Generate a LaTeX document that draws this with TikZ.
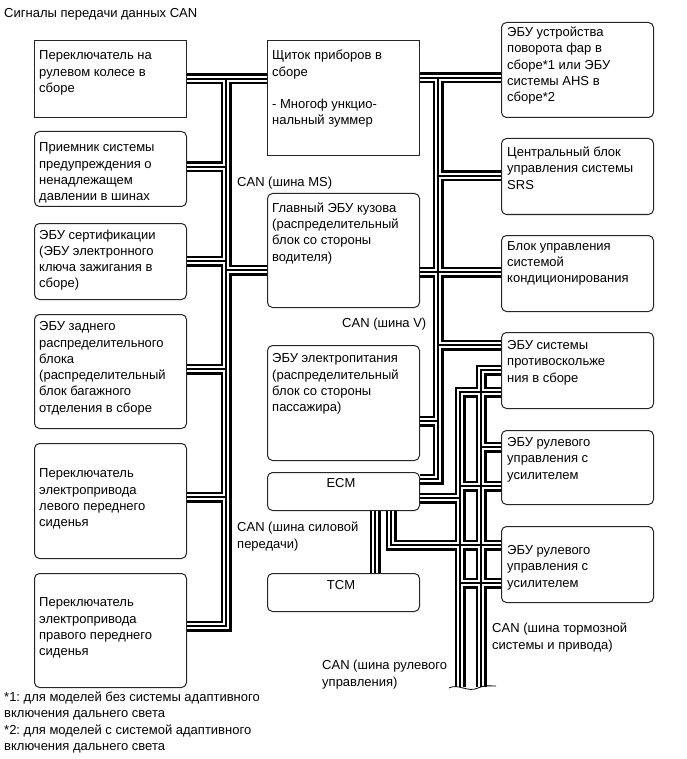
\documentclass[tikz,border=0pt]{standalone}
\usepackage{fontspec}
\setmainfont{Liberation Sans}
\frenchspacing
\begin{document}
\begin{tikzpicture}[x=1pt,y=-1pt,
  box/.style={draw=black!85, line width=1pt, fill=white, inner sep=0pt, minimum width=152pt, anchor=north west},
  rbox/.style={box, rounded corners=5pt},
  txt/.style={font=\fontsize{13}{16.3}\selectfont, inner sep=0pt, align=left, anchor=north west},
  lbl/.style={font=\fontsize{13}{16.3}\selectfont, inner sep=0pt, anchor=base west},
  foot/.style={font=\fontsize{13}{16.5}\selectfont, inner sep=0pt, align=left, anchor=north west},
  busA/.style={line width=11pt, black},
  busB/.style={line width=5.6pt, white},
  busC/.style={line width=1.4pt, black}]
\useasboundingbox (0,0) rectangle (686,759);

% ---- boxes ----
\node[box,  minimum height=77pt]  (sw)   at (34,40)  {};
\node[rbox, minimum height=75pt]  (tp)   at (34,131) {};
\node[rbox, minimum height=76pt]  (cert) at (34,223) {};
\node[rbox, minimum height=114pt] (rear) at (34,314) {};
\node[rbox, minimum height=115pt] (ls)   at (34,443) {};
\node[rbox, minimum height=114pt] (rs)   at (34,573) {};
\node[box,  minimum height=115pt] (ip)   at (267,40) {};
\node[rbox, minimum height=114pt] (mb)   at (267,193) {};
\node[rbox, minimum height=115pt] (ps)   at (267,345) {};
\node[rbox, minimum height=38pt]  (ecm)  at (267,472) {};
\node[rbox, minimum height=38pt]  (tcm)  at (267,573) {};
\node[rbox, minimum height=95pt]  (hl)   at (501,22)  {};
\node[rbox, minimum height=76pt]  (srs)  at (501,138) {};
\node[rbox, minimum height=76pt]  (ac)   at (501,235) {};
\node[rbox, minimum height=76pt]  (absu) at (501,332) {};
\node[rbox, minimum height=74pt]  (eps1) at (501,430) {};
\node[rbox, minimum height=76pt]  (eps2) at (501,526) {};

% ---- bus junction points ----
\coordinate (msTop) at (226,79);
\coordinate (msBot) at (226,626);
\coordinate (vTop)  at (438,78);
\coordinate (vBot)  at (438,479);
\coordinate (brTop) at (481,370);
\coordinate (brEnd) at (481,687);
\coordinate (stTop) at (460,392);
\coordinate (stEnd) at (460,687);
\coordinate (ptCor) at (391,545);

\foreach \st in {busA,busB,busC}{
  \draw[\st]
    % CAN MS bus
    (sw.east |- msTop) -- (ip.west |- msTop)
    (msTop) -- (msBot) -- (rs.east |- msBot)
    (tp.east |- 0,167) -- (msTop |- 0,167)
    (cert.east |- 0,261) -- (msTop |- 0,261)
    (msTop |- 0,270) -- (mb.west |- 0,270)
    (rear.east |- 0,369) -- (msTop |- 0,369)
    (ls.east |- 0,497) -- (msTop |- 0,497)
    % CAN V bus
    (ip.east |- vTop) -- (hl.west |- vTop)
    (vTop) -- (vBot) -- (ecm.east |- vBot)
    (vTop |- 0,176) -- (srs.west |- 0,176)
    (mb.east |- 0,272) -- (ac.west |- 0,272)
    (vTop |- 0,345) -- (absu.west |- 0,345)
    (ps.east |- 0,421) -- (vTop |- 0,421)
    % brake / drive bus
    (absu.west |- brTop) -- (brTop) -- (brEnd)
    (brTop |- 0,447) -- (eps1.west |- 0,447)
    % steering bus
    (absu.west |- stTop) -- (stTop) -- (stEnd)
    (stTop |- 0,486) -- (eps1.west |- 0,486)
    (ecm.east |- 0,498) -- (stTop |- 0,498)
    (stTop |- 0,583) -- (eps2.west |- 0,583)
    % powertrain bus
    (ecm.south -| 375,0) -- (tcm.north -| 375,0)
    (ecm.south -| ptCor) -- (ptCor) -- (eps2.west |- ptCor);
}
% break mark
\draw[line width=0.8pt] (449,688) .. controls (458,683) and (468,693) .. (478,688) .. controls (485,685) and (490,686) .. (496,686);

% ---- texts ----
\node[lbl] (title) at (4,18) {Сигналы передачи данных CAN};
\node[txt] (tsw) at (39,48.1) {\strut Переключатель на\\рулевом колесе в\\сборе};
\node[txt] (ttp) at (39,140.1) {\strut Приемник системы\\предупреждения о\\ненадлежащем\\давлении в шинах};
\node[txt] (tcert) at (39,227.4) {\strut ЭБУ сертификации\\(ЭБУ электронного\\ключа зажигания в\\сборе)};
\node[txt] (trear) at (39,319.1) {\strut ЭБУ заднего\\распределительного\\блока\\(распределительный\\блок багажного\\отделения в сборе};
\node[txt] (tls) at (39,466.1) {\strut Переключатель\\электропривода\\левого переднего\\сиденья};
\node[txt] (trs) at (39,595.1) {\strut Переключатель\\электропривода\\правого переднего\\сиденья};
\node[txt] (tip) at (272,48.1) {\strut Щиток приборов в\\сборе\\[15.8pt]- Многоф ункцио-\\нальный зуммер};
\node[txt] (tmb) at (272,200.6) {\strut Главный ЭБУ кузова\\(распределительный\\блок со стороны\\водителя)};
\node[txt] (tps) at (272,351.1) {\strut ЭБУ электропитания\\(распределительный\\блок со стороны\\пассажира)};
\node[lbl, anchor=base] (tecm) at (341,487.5) {ECM};
\node[lbl, anchor=base] (ttcm) at (341,589.5) {TCM};
\node[txt] (thl) at (507,24.9) {\strut ЭБУ устройства\\поворота фар в\\сборе*1 или ЭБУ\\системы AHS в\\сборе*2};
\node[txt] (tsrs) at (507,144.9) {\strut Центральный блок\\управления системы\\SRS};
\node[txt] (tac) at (507,238.6) {\strut Блок управления\\системой\\кондиционирования};
\node[txt] (tabs) at (507,337.9) {\strut ЭБУ системы\\противоскольже\\ния в сборе};
\node[txt] (teps1) at (507,434.9) {\strut ЭБУ рулевого\\управления с\\усилителем};
\node[txt] (teps2) at (507,542.9) {\strut ЭБУ рулевого\\управления с\\усилителем};

\node[lbl] (lms) at (237,187) {CAN (шина MS)};
\node[lbl] (lv) at (342,327) {CAN (шина V)};
\node[txt] (lpt) at (237,520.1) {\strut CAN (шина силовой\\передачи)};
\node[txt] (lbr) at (492,621.1) {\strut CAN (шина тормозной\\системы и привода)};
\node[txt] (lst) at (322,658.1) {\strut CAN (шина рулевого\\управления)};
\node[foot] (fn) at (4,689.45) {\strut *1: для моделей без системы адаптивного\\включения дальнего света\\*2: для моделей с системой адаптивного\\включения дальнего света};
\end{tikzpicture}
\end{document}
